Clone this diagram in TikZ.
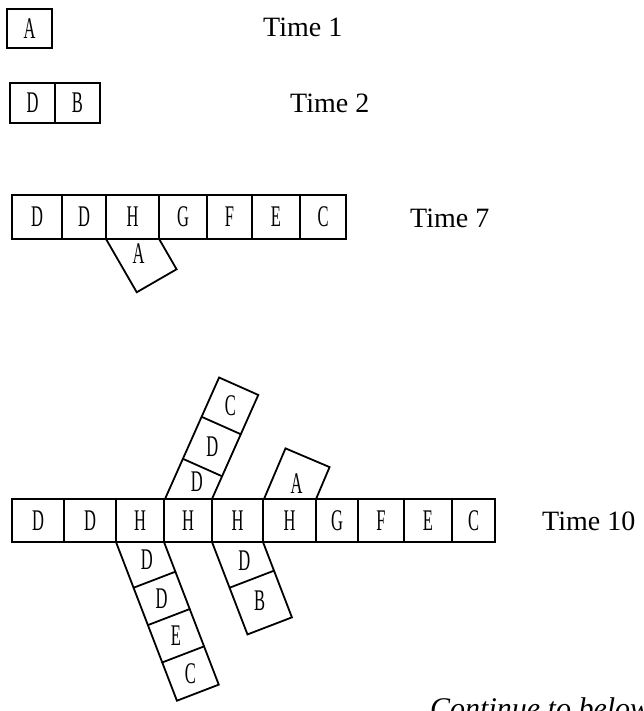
\documentclass[tikz,border=0pt]{standalone}
\usepackage{fontspec}
\setmainfont{Liberation Serif}
\newfontfamily\cellfont[FakeStretch=0.55]{Liberation Serif}
\tikzset{cellline/.style={line width=1.8pt,line cap=round},letter/.style={font=\cellfont\fontsize{30}{30}\selectfont,inner sep=0pt},timelbl/.style={font=\fontsize{28}{28}\selectfont,anchor=base west,inner sep=0pt}}
\begin{document}
\begin{tikzpicture}[x=1pt,y=-1pt]
      \useasboundingbox (0,0) rectangle (644,711);
      % time 1
      \draw[cellline] (7,9) rectangle (52,48);
      \node[letter] (t1a) at (29.5,28.5) {A};
      \node[timelbl] (time1) at (263,37) {Time 1};
      % time 2
      \draw[cellline] (10,83) rectangle (100,123) (55,83) -- (55,123);
      \node[letter] (t2d) at (32.5,103) {D};\node[letter] (t2b) at (77.5,103) {B};
      \node[timelbl] (time2) at (290,113) {Time 2};
      % time 7
      \foreach \xa/\xb/\c [count=\i] in {12/62/D,62/106/D,106/159/H,159/207/G,207/252/F,252/300/E,300/346/C}{
        \draw[cellline] (\xa,195) rectangle (\xb,239);
        \node[letter] (t7c\i) at ({(\xa+\xb)/2},217) {\c};}
      \begin{scope}[shift={(106,239)},rotate=30]
        \draw[cellline] (0,0) -- (0,61.5) -- (46,61.5) -- (46,26.5);
        \node[letter] (t7a) at (21,29) {A};
      \end{scope}
      \node[timelbl] (time7) at (410,227) {Time 7};
      % time 10
      \foreach \xa/\xb/\c [count=\i] in {12/64/D,64/116/D,116/164/H,164/212/H,212/263/H,263/316/H,316/358/G,358/404/F,404/452/E,452/495/C}{
        \draw[cellline] (\xa,499) rectangle (\xb,542);
        \node[letter] (t10c\i) at ({(\xa+\xb)/2},520.5) {\c};}
      \begin{scope}[shift={(116,542)},rotate=21]
        \draw[cellline] (0,0) -- (0,170) -- (44.8,170) -- (44.8,17.2);
        \foreach \d in {49,89,129}\draw[cellline] (0,\d) -- (44.8,\d);
        \foreach \y/\c [count=\i] in {28/D,69/D,109/E,149.5/C}\node[letter] (dn1c\i) at (22.4,\y) {\c};
      \end{scope}
      \begin{scope}[shift={(212,542)},rotate=21]
        \draw[cellline] (0,0) -- (0,99) -- (47.6,99) -- (47.6,18.3) (0,49) -- (47.6,49);
        \node[letter] (dn2c1) at (23.5,29) {D};\node[letter] (dn2c2) at (23.5,72) {B};
      \end{scope}
      \begin{scope}[shift={(165,499)},rotate=-24]
        \draw[cellline] (0,0) -- (0,-133) -- (42.9,-133) -- (42.9,-19.1);
        \foreach \d in {-44,-90}\draw[cellline] (0,\d) -- (42.9,\d);
        \foreach \y/\c [count=\i] in {-29/D,-67/D,-111.5/C}\node[letter] (up1c\i) at (22,\y) {\c};
      \end{scope}
      \begin{scope}[shift={(264,499)},rotate=-23]
        \draw[cellline] (0,0) -- (0,-55) -- (47.9,-55) -- (47.9,-20.3);
        \node[letter] (up2c1) at (24,-27) {A};
      \end{scope}
      \node[timelbl] (time10) at (542,530) {Time 10};
      \node[timelbl,font=\fontsize{30}{30}\selectfont\itshape] (cont) at (430,718) {Continue to below};
    \end{tikzpicture}
\end{document}
